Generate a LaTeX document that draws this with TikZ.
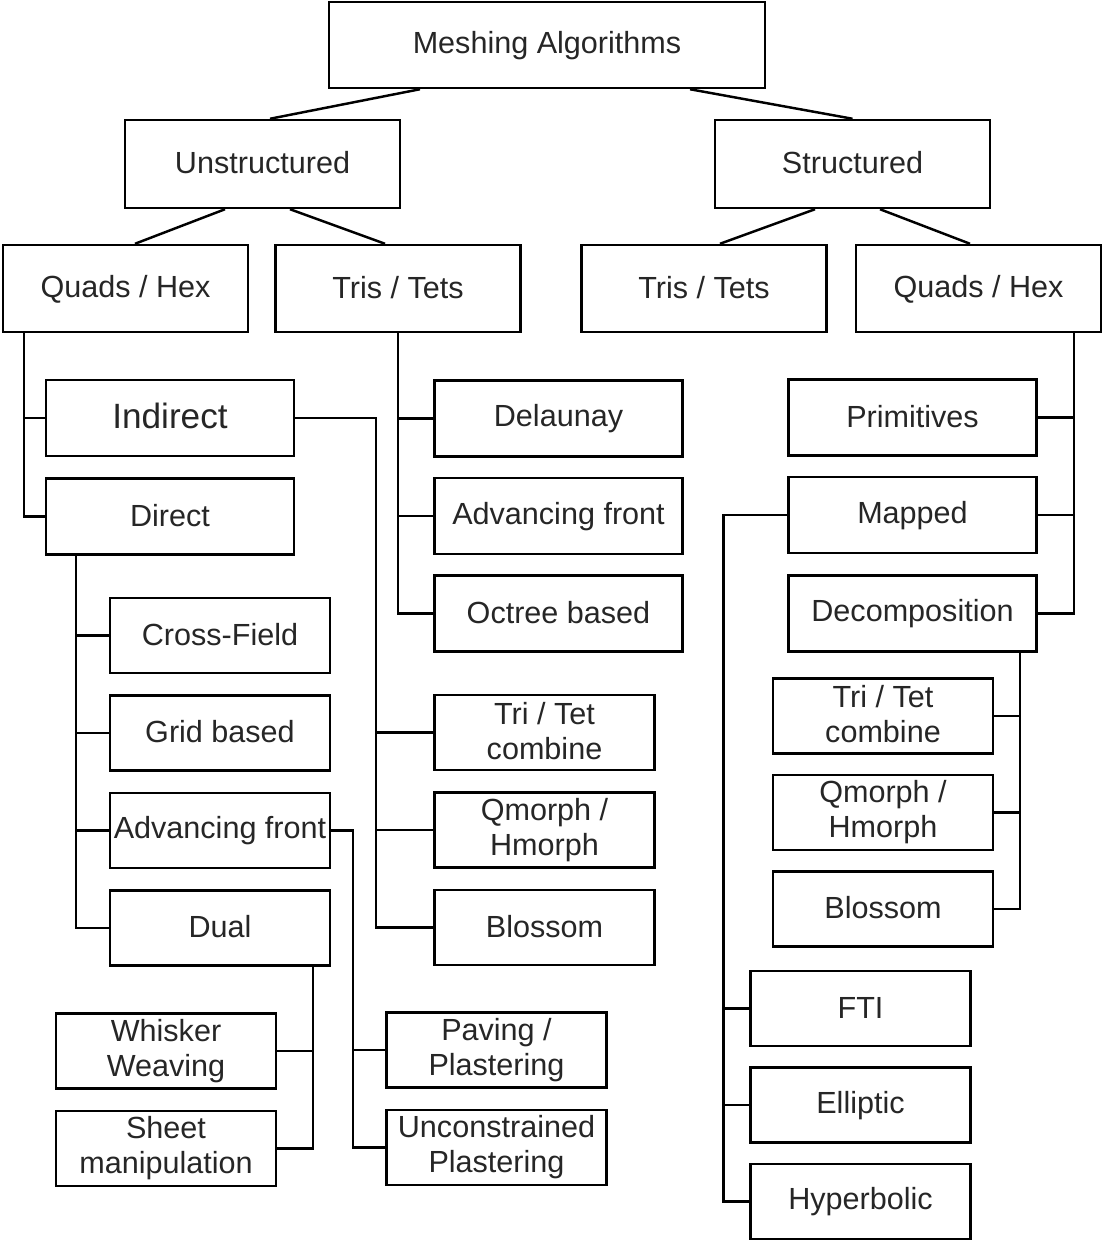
\documentclass[tikz,border=0pt]{standalone}
\usepackage{fontspec}
\setmainfont{Liberation Sans}
\usetikzlibrary{positioning}

\begin{document}
\begin{tikzpicture}[
    box/.style={rectangle, draw=black, line width=1.4pt, inner sep=0pt, align=center, text=black!85, font=\fontsize{17.4}{20}\selectfont, execute at begin node={\rule{0pt}{13pt}}, execute at end node={\rule[-2pt]{0pt}{2pt}}},
    topbox/.style={box, minimum width=8.72cm, minimum height=1.72cm},
    kindbox/.style={box, minimum width=5.5cm, minimum height=1.76cm},
    elembox/.style={box, minimum width=4.9cm, minimum height=1.74cm},
    widebox/.style={box, minimum width=4.96cm, minimum height=1.52cm},
    smallbox/.style={box, minimum width=4.4cm, minimum height=1.5cm},
    link/.style={draw=black, line width=1.4pt}
]
    \useasboundingbox (0,0) rectangle (22.04,-24.82);

    \node [topbox] (meshing) at (10.94,-0.9) {Meshing Algorithms};
    \node [kindbox] (unstr) at (5.25,-3.28) {Unstructured};
    \node [kindbox] (str) at (17.05,-3.28) {Structured};

    \node [elembox] (quadsL) at (2.51,-5.77) {Quads / Hex};
    \node [elembox] (trisL) at (7.96,-5.77) {Tris / Tets};
    \node [elembox] (trisR) at (14.08,-5.77) {Tris / Tets};
    \node [elembox] (quadsR) at (19.57,-5.77) {Quads / Hex};

    \node [widebox, font=\fontsize{20}{24}\selectfont] (indirect) at (3.4,-8.36) {Indirect};
    \node [widebox, below=0.4cm of indirect] (direct) {Direct};

    \node [widebox] (delaunay) at (11.17,-8.37) {Delaunay};
    \node [widebox, below=0.38cm of delaunay] (advT) {Advancing front};
    \node [widebox, below=0.38cm of advT] (octree) {Octree based};

    \node [widebox] (prim) at (18.25,-8.35) {Primitives};
    \node [widebox, below=0.38cm of prim] (mapped) {Mapped};
    \node [widebox, below=0.4cm of mapped] (decomp) {Decomposition};

    \node [smallbox] (cross) at (4.4,-12.71) {Cross-Field};
    \node [smallbox, below=0.4cm of cross] (grid) {Grid based};
    \node [smallbox, below=0.4cm of grid] (advQ) {Advancing front};
    \node [smallbox, below=0.4cm of advQ] (dual) {Dual};

    \node [smallbox] (tritetL) at (10.89,-14.65) {Tri / Tet\\combine};
    \node [smallbox, below=0.4cm of tritetL] (qmorphL) {Qmorph /\\Hmorph};
    \node [smallbox, below=0.4cm of qmorphL] (blossomL) {Blossom};

    \node [smallbox] (whisker) at (3.32,-21.02) {Whisker\\Weaving};
    \node [smallbox, below=0.4cm of whisker] (sheet) {Sheet\\manipulation};

    \node [smallbox] (paving) at (9.93,-21.0) {Paving /\\Plastering};
    \node [smallbox, below=0.4cm of paving] (unconstr) {Unconstrained\\Plastering};

    \node [smallbox] (tritetR) at (17.66,-14.32) {Tri / Tet\\combine};
    \node [smallbox, below=0.38cm of tritetR] (qmorphR) {Qmorph /\\Hmorph};
    \node [smallbox, below=0.38cm of qmorphR] (blossomR) {Blossom};

    \node [smallbox] (fti) at (17.21,-20.17) {FTI};
    \node [smallbox, below=0.38cm of fti] (elliptic) {Elliptic};
    \node [smallbox, below=0.38cm of elliptic] (hyperbolic) {Hyperbolic};

    \draw [link] ([xshift=-2.54cm]meshing.south) -- ([xshift=0.15cm]unstr.north);
    \draw [link] ([xshift=2.86cm]meshing.south) -- (str.north);
    \draw [link] ([xshift=-0.75cm]unstr.south) -- ([xshift=0.19cm]quadsL.north);
    \draw [link] ([xshift=0.55cm]unstr.south) -- ([xshift=-0.26cm]trisL.north);
    \draw [link] ([xshift=-0.75cm]str.south) -- ([xshift=0.32cm]trisR.north);
    \draw [link] ([xshift=0.55cm]str.south) -- ([xshift=-0.17cm]quadsR.north);

    \draw [link] ([xshift=0.44cm]quadsL.south west) coordinate (qL) |- (direct.west);
    \draw [link] (indirect.west) -- (indirect.west -| qL);

    \draw [link] (trisL.south) |- (octree.west);
    \draw [link] (delaunay.west) -- (delaunay.west -| trisL.south);
    \draw [link] (advT.west) -- (advT.west -| trisL.south);

    \draw [link] ([xshift=-0.56cm]quadsR.south east) coordinate (qR) |- (decomp.east);
    \draw [link] (prim.east) -- (prim.east -| qR);
    \draw [link] (mapped.east) -- (mapped.east -| qR);

    \draw [link] (indirect.east) -- ++(1.62,0) coordinate (ind) |- (blossomL.west);
    \draw [link] (tritetL.west) -- (tritetL.west -| ind);
    \draw [link] (qmorphL.west) -- (qmorphL.west -| ind);

    \draw [link] ([xshift=0.62cm]direct.south west) coordinate (dir) |- (dual.west);
    \draw [link] (cross.west) -- (cross.west -| dir);
    \draw [link] (grid.west) -- (grid.west -| dir);
    \draw [link] (advQ.west) -- (advQ.west -| dir);

    \draw [link] ([xshift=-0.36cm]dual.south east) coordinate (du) |- (sheet.east);
    \draw [link] (whisker.east) -- (whisker.east -| du);

    \draw [link] (advQ.east) -- ++(0.44,0) coordinate (af) |- (unconstr.west);
    \draw [link] (paving.west) -- (paving.west -| af);

    \draw [link] (mapped.west) -- ++(-1.28,0) coordinate (map) |- (hyperbolic.west);
    \draw [link] (fti.west) -- (fti.west -| map);
    \draw [link] (elliptic.west) -- (elliptic.west -| map);

    \draw [link] ([xshift=-0.36cm]decomp.south east) coordinate (dec) |- (blossomR.east);
    \draw [link] (tritetR.east) -- (tritetR.east -| dec);
    \draw [link] (qmorphR.east) -- (qmorphR.east -| dec);
\end{tikzpicture}
\end{document}
